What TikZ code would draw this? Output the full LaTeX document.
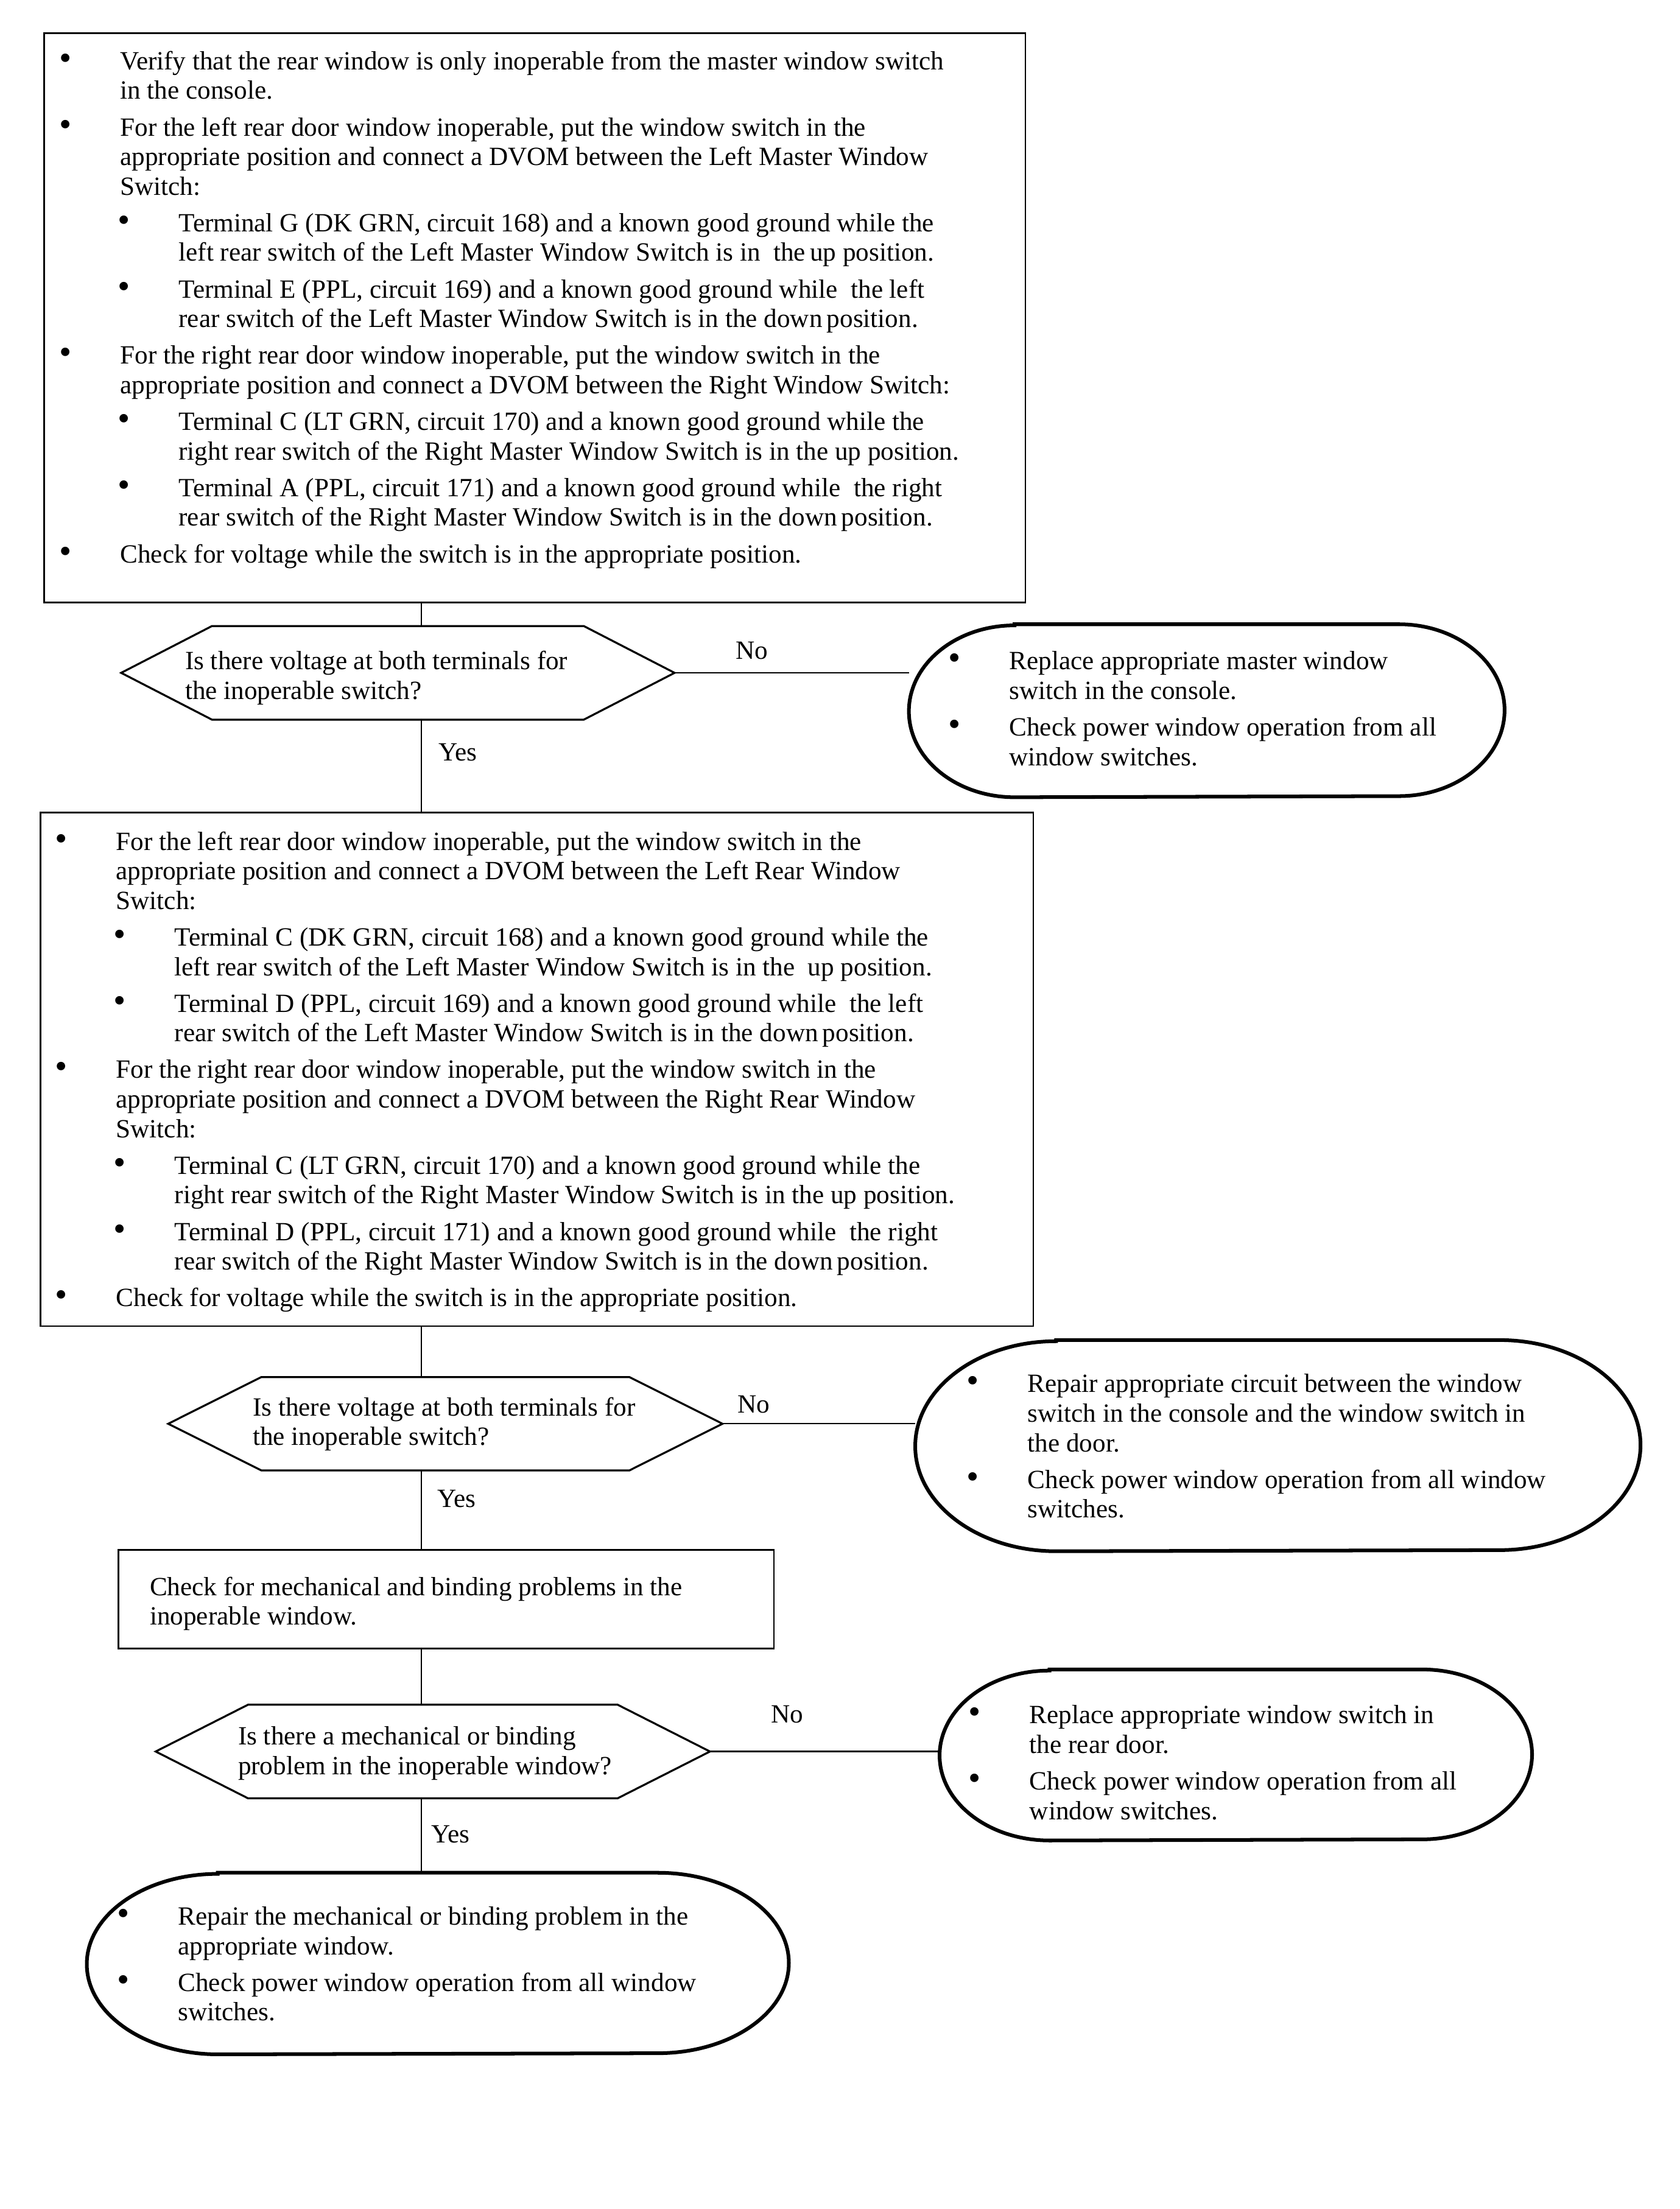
\documentclass[tikz,border=0pt]{standalone}
\usepackage{fontspec}
\setmainfont{Liberation Serif}
\usetikzlibrary{calc}
\newcommand\Bu{\llap{{\fontsize{12.5}{12.5}\selectfont\textbullet}\hspace*{17.3pt}}}
\newcommand\SubB{\hspace*{20.75pt}\Bu}
\newcommand\SubN{\hspace*{20.75pt}}
\newcommand\Fs{\rule{0pt}{12pt}}
\newcommand\hexdraw[2]{\draw[hexline] (#1.west) -- ([xshift=#2]#1.north west) -- ([xshift=-#2]#1.north east) -- (#1.east) -- ([xshift=-#2]#1.south east) -- ([xshift=#2]#1.south west) -- cycle;}
\newcommand\termdraw[3]{\draw[termline] ([xshift=#2]#1.north west) -- ([xshift=-#2]#1.north east) arc[start angle=90,end angle=-90,x radius=#2,y radius=#3] -- ([xshift=#2]#1.south west) arc[start angle=270,end angle=90,x radius=#2,y radius=#3] -- cycle;}
\begin{document}
\begin{tikzpicture}[x=0.5pt,y=-0.5pt,
  font=\fontsize{9.33}{10.5}\selectfont,
  box/.style={draw,line width=0.6pt,inner sep=0pt},
  hexbox/.style={inner sep=0pt},
  termbox/.style={inner sep=0pt},
  txt/.style={anchor=north west,inner sep=0pt,align=left},
  lbl/.style={anchor=base west,inner sep=0pt},
  conn/.style={line width=0.5pt},
  hexline/.style={line width=0.7pt},
  termline/.style={line width=1.3pt,fill=white}]
\useasboundingbox (0,0) rectangle (1192,1568);
\fill[white] (0,0) rectangle (1192,1568);

% process boxes
\node[box, minimum width=348.2pt, minimum height=202.1pt] (b1) at (379.6,225.5) {};
\node[box, minimum width=352.3pt, minimum height=182.3pt] (b2) at (381.1,759) {};
\node[box, minimum width=232.65pt, minimum height=34.9pt] (b3) at (316.65,1135.1) {};

% decisions
\node[hexbox, minimum width=196pt, minimum height=32.8pt] (d1) at (282.4,477.6) {};
\node[hexbox, minimum width=196.3pt, minimum height=32.7pt] (d2) at (316.1,1010.6) {};
\node[hexbox, minimum width=196.3pt, minimum height=32.85pt] (d3) at (307.2,1243.25) {};
\hexdraw{d1}{32.2pt}
\hexdraw{d2}{33pt}
\hexdraw{d3}{32.8pt}

% terminals (frames)
\node[termbox, minimum width=211pt, minimum height=61pt] (t1) at (856.5,504.5) {};
\node[termbox, minimum width=257pt, minimum height=74.55pt] (t2) at (907,1026.15) {};
\node[termbox, minimum width=209.85pt, minimum height=60.3pt] (t3) at (877.15,1245.7) {};
\node[termbox, minimum width=248.75pt, minimum height=64.05pt] (t4) at (310.75,1393.75) {};

% connectors
\coordinate (spine) at (299,0);
\draw[conn] (b1.south -| spine) -- (d1.north -| spine);
\draw[conn] (d1.south -| spine) -- (b2.north -| spine);
\draw[conn] (b2.south -| spine) -- (d2.north -| spine);
\draw[conn] (d2.south -| spine) -- (b3.north -| spine);
\draw[conn] (b3.south -| spine) -- (d3.north -| spine);
\draw[conn] (d3.south -| spine) -- (t4.north -| spine);
\draw[conn] (d1.east) -- (d1.east -| t1.west);
\draw[conn] (d2.east) -- (d2.east -| t2.west);
\draw[conn] (d3.east) -- (d3.east -| t3.west);

\termdraw{t1}{37.5pt}{30.5pt}
\termdraw{t2}{50pt}{37.275pt}
\termdraw{t3}{39pt}{30.15pt}
\termdraw{t4}{46.5pt}{32.025pt}

% texts
\node[txt] (b1txt) at (85,25) {\Fs\Bu Verify that the rear window is only inoperable from the master window switch\\
in the console.\\[2.5pt]
\Bu For the left rear door window inoperable, put the window switch in the\\
appropriate position and connect a DVOM between the Left Master Window\\
Switch:\\[2.5pt]
\SubB Terminal G (DK GRN, circuit 168) and a known good ground while the\\
\SubN left rear switch of the Left Master Window Switch is in\ \ the\,up position.\\[2.5pt]
\SubB Terminal E (PPL, circuit 169) and a known good ground while\ \ the left\\
\SubN rear switch of the Left Master Window Switch is in the down\,position.\\[2.5pt]
\Bu For the right rear door window inoperable, put the window switch in the\\
appropriate position and connect a DVOM between the Right Window Switch:\\[2.5pt]
\SubB Terminal C (LT GRN, circuit 170) and a known good ground while the\\
\SubN right rear switch of the Right Master Window Switch is in the up position.\\[2.5pt]
\SubB Terminal A (PPL, circuit 171) and a known good ground while\ \ the right\\
\SubN rear switch of the Right Master Window Switch is in the down\,position.\\[2.5pt]
\Bu Check for voltage while the switch is in the appropriate position.};

\node[txt] (b2txt) at (82,579) {\Fs\Bu For the left rear door window inoperable, put the window switch in the\\
appropriate position and connect a DVOM between the Left Rear Window\\
Switch:\\[2.5pt]
\SubB Terminal C (DK GRN, circuit 168) and a known good ground while the\\
\SubN left rear switch of the Left Master Window Switch is in the\ \ up position.\\[2.5pt]
\SubB Terminal D (PPL, circuit 169) and a known good ground while\ \ the left\\
\SubN rear switch of the Left Master Window Switch is in the down\,position.\\[2.5pt]
\Bu For the right rear door window inoperable, put the window switch in the\\
appropriate position and connect a DVOM between the Right Rear Window\\
Switch:\\[2.5pt]
\SubB Terminal C (LT GRN, circuit 170) and a known good ground while the\\
\SubN right rear switch of the Right Master Window Switch is in the up position.\\[2.5pt]
\SubB Terminal D (PPL, circuit 171) and a known good ground while\ \ the right\\
\SubN rear switch of the Right Master Window Switch is in the down\,position.\\[2.5pt]
\Bu Check for voltage while the switch is in the appropriate position.};

\node[txt] (d1txt) at (131,451) {\Fs Is there voltage at both terminals for\\the inoperable switch?};
\node[txt] (d2txt) at (179,980.5) {\Fs Is there voltage at both terminals for\\the inoperable switch?};
\node[txt] (d3txt) at (168.6,1214) {\Fs Is there a mechanical or binding\\problem in the inoperable window?};
\node[txt] (b3txt) at (106,1108) {\Fs Check for mechanical and binding problems in the\\inoperable window.};

\node[txt] (t1txt) at (716,451) {\Fs\Bu Replace appropriate master window\\switch in the console.\\[2.5pt]\Bu Check power window operation from all\\window switches.};
\node[txt] (t2txt) at (729,964) {\Fs\Bu Repair appropriate circuit between the window\\switch in the console and the window switch in\\the door.\\[2.5pt]\Bu Check power window operation from all window\\switches.};
\node[txt] (t3txt) at (730.4,1199) {\Fs\Bu Replace appropriate window switch in\\the rear door.\\[2.5pt]\Bu Check power window operation from all\\window switches.};
\node[txt] (t4txt) at (126,1342) {\Fs\Bu Repair the mechanical or binding problem in the\\appropriate window.\\[2.5pt]\Bu Check power window operation from all window\\switches.};

% branch labels
\node[lbl] (no1) at (522,468) {No};
\node[lbl] (yes1) at (311,540) {Yes};
\node[lbl] (no2) at (523,1003) {No};
\node[lbl] (yes2) at (310,1070) {Yes};
\node[lbl] (no3) at (547,1223) {No};
\node[lbl] (yes3) at (306,1308) {Yes};
\end{tikzpicture}
\end{document}
